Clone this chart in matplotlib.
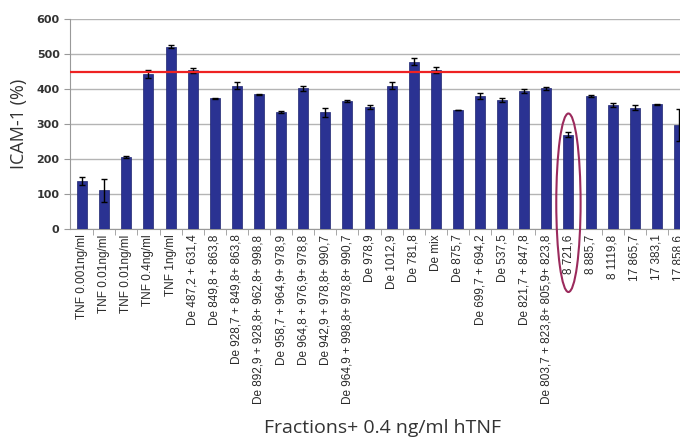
"""ICAM-1 expression per fraction, bar chart with error bars."""

import matplotlib

matplotlib.use("Agg")
import matplotlib.pyplot as plt
from matplotlib.patches import Ellipse

labels = [
    "TNF 0.001ng/ml",
    "TNF 0.01ng/ml",
    "TNF 0.01ng/ml",
    "TNF 0.4ng/ml",
    "TNF 1ng/ml",
    "De 487,2 + 631,4",
    "De 849,8 + 863,8",
    "De 928,7 + 849,8+ 863,8",
    "De 892,9 + 928,8+ 962,8+ 998,8",
    "De 958,7 + 964,9+ 978,9",
    "De 964,8 + 976,9+ 978,8",
    "De 942,9 + 978,8+ 990,7",
    "De 964,9 + 998,8+ 978,8+ 990,7",
    "De 978,9",
    "De 1012,9",
    "De 781,8",
    "De mix",
    "De 875,7",
    "De 699,7 + 694,2",
    "De 537,5",
    "De 821,7 + 847,8",
    "De 803,7 + 823,8+ 805,9+ 823,8",
    "8 721,6",
    "8 885,7",
    "8 1119,8",
    "17 865,7",
    "17 383,1",
    "17 858,6",
]
icam = [137, 111, 207, 443, 521, 454, 373, 410, 385, 334, 402, 334, 366, 349,
        410, 478, 454, 340, 381, 368, 394, 402, 270, 380, 354, 347, 356, 297]
err = [12, 33, 3, 11, 4, 7, 2, 10, 2, 2, 7, 13, 4, 5,
       10, 10, 9, 1, 9, 6, 5, 5, 8, 4, 6, 8, 1, 45]
threshold = 450
highlight = 22  # "8 721,6"

fig = plt.figure(figsize=(6.8, 4.38), dpi=100)
ax = fig.add_axes([70 / 680, 1 - 229 / 438, 620 / 680, 210 / 438])

x = list(range(len(labels)))
ax.bar(x, icam, width=0.45, color="#2a3292", edgecolor="#1e2470", linewidth=0.5, zorder=3)
ax.errorbar(x, icam, yerr=err, fmt="none", ecolor="black", elinewidth=1,
            capsize=2.5, capthick=1, zorder=4)
ax.axhline(threshold, color="#ee2222", lw=1.6, zorder=5)

ax.set_ylim(0, 600)
ax.set_xlim(-0.55, len(labels) - 0.5)
ax.set_yticks(range(0, 601, 100))
ax.yaxis.grid(True, color="#b4b4b4", lw=1)
ax.set_axisbelow(True)

ax.set_xticks(x)
ax.set_xticklabels(labels, rotation=90, fontsize=8.5, family="Liberation Sans",
                   color="#2a2a2a", va="top")
ax.set_xticks([i - 0.5 for i in range(1, len(labels))], minor=True)
ax.tick_params(axis="x", which="major", length=0, pad=4)
ax.tick_params(axis="x", which="minor", length=4, color="#999999")
ax.tick_params(axis="y", length=4, color="#999999", labelsize=8, labelcolor="#333333")
for t in ax.get_yticklabels():
    t.set_fontweight("bold")

for side in ["top", "right"]:
    ax.spines[side].set_visible(False)
for side in ["left", "bottom"]:
    ax.spines[side].set_color("#999999")

ax.set_ylabel("ICAM-1 (%)", fontsize=13, family="Open Sans", color="#333333", labelpad=6)
fig.text(383 / 680, 1 - 428 / 438, "Fractions+ 0.4 ng/ml hTNF", fontsize=14,
         family="Open Sans", color="#333333", ha="center", va="center")

ax.add_patch(Ellipse((highlight, 75), 1.1, 510, fill=False, edgecolor="#9b2a5c",
                     lw=1.5, clip_on=False, zorder=6))

fig.savefig("out.png", dpi=100)
